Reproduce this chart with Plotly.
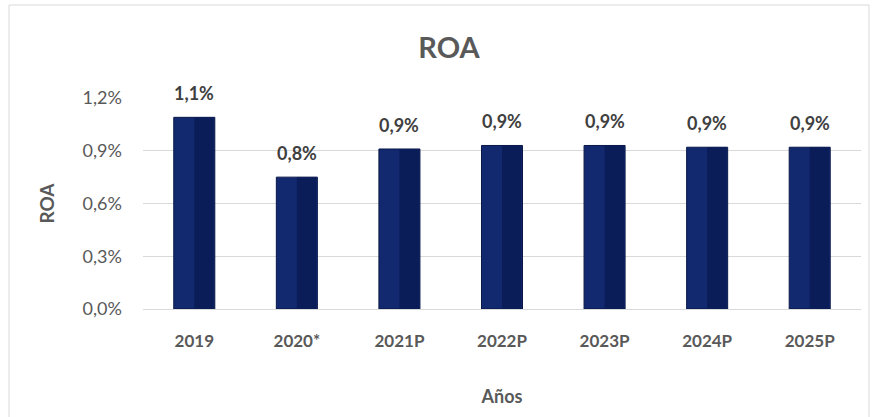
import plotly.graph_objects as go

years = ["2019", "2020*", "2021P", "2022P", "2023P", "2024P", "2025P"]
roa = [0.0109, 0.0075, 0.0091, 0.0093, 0.0093, 0.0092, 0.0092]
y_ticks = [0.0, 0.003, 0.006, 0.009, 0.012]

FONT = "Lato"
fig = go.Figure()
# base bar (left lighter half)
fig.add_trace(go.Bar(x=years, y=roa, width=0.4, marker=dict(color="#12296f", line=dict(color="#081848", width=1)),
                     hoverinfo="skip", showlegend=False))
# right darker half
fig.add_trace(go.Bar(x=years, y=roa, width=0.19, offset=0.0, marker=dict(color="#0b1d58", line=dict(width=0)),
                     hoverinfo="skip", showlegend=False))

for i, v in enumerate(roa):
    fig.add_annotation(x=i, y=v, text=f"<b>{v*100:.1f}%</b>".replace(".", ","), showarrow=False,
                       yshift=24, font=dict(family=FONT, size=18, color="#404040"))

W, H = 875, 417
L, R, T, B = 143, 14, 98, 108
pw = W - L - R
ph = H - T - B
def px(x):
    return (x - L) / pw
def py(y):
    return (H - B - y) / ph

fig.add_shape(type="rect", xref="paper", yref="paper", x0=px(9), x1=px(869), y0=py(5), y1=py(430),
              line=dict(color="#d9d9d9", width=1), fillcolor="rgba(0,0,0,0)", layer="below")

fig.update_layout(
    width=W, height=H,
    margin=dict(l=L, r=R, t=T, b=B),
    paper_bgcolor="white", plot_bgcolor="white",
    separators=",.",
    barmode="overlay",
    title=dict(text="<b>ROA</b>", x=449 / W, xanchor="center", y=1 - 48 / H, yanchor="middle",
               font=dict(family=FONT, size=29, color="#595959")),
    xaxis=dict(type="category", range=[-0.5, len(years) - 0.5],
               tickfont=dict(family=FONT, size=17, color="#595959", weight="bold"),
               showgrid=False, ticks="", showline=False, ticklabelstandoff=20,
               title=dict(text="<b>Años</b>", font=dict(family=FONT, size=18, color="#595959"), standoff=40)),
    yaxis=dict(range=[0, 0.012], tickvals=y_ticks, tickformat=".1%",
               tickfont=dict(family=FONT, size=18, color="#595959"),
               gridcolor="#d9d9d9", gridwidth=1, zeroline=True, zerolinecolor="#d9d9d9", zerolinewidth=1,
               showline=False, ticks="", ticklabelstandoff=20,
               title=dict(text="<b>ROA</b>", font=dict(family=FONT, size=19, color="#595959"), standoff=22)),
)

fig.write_html("out.html", config={"displayModeBar": False}, post_script="document.body.style.margin='0';")
